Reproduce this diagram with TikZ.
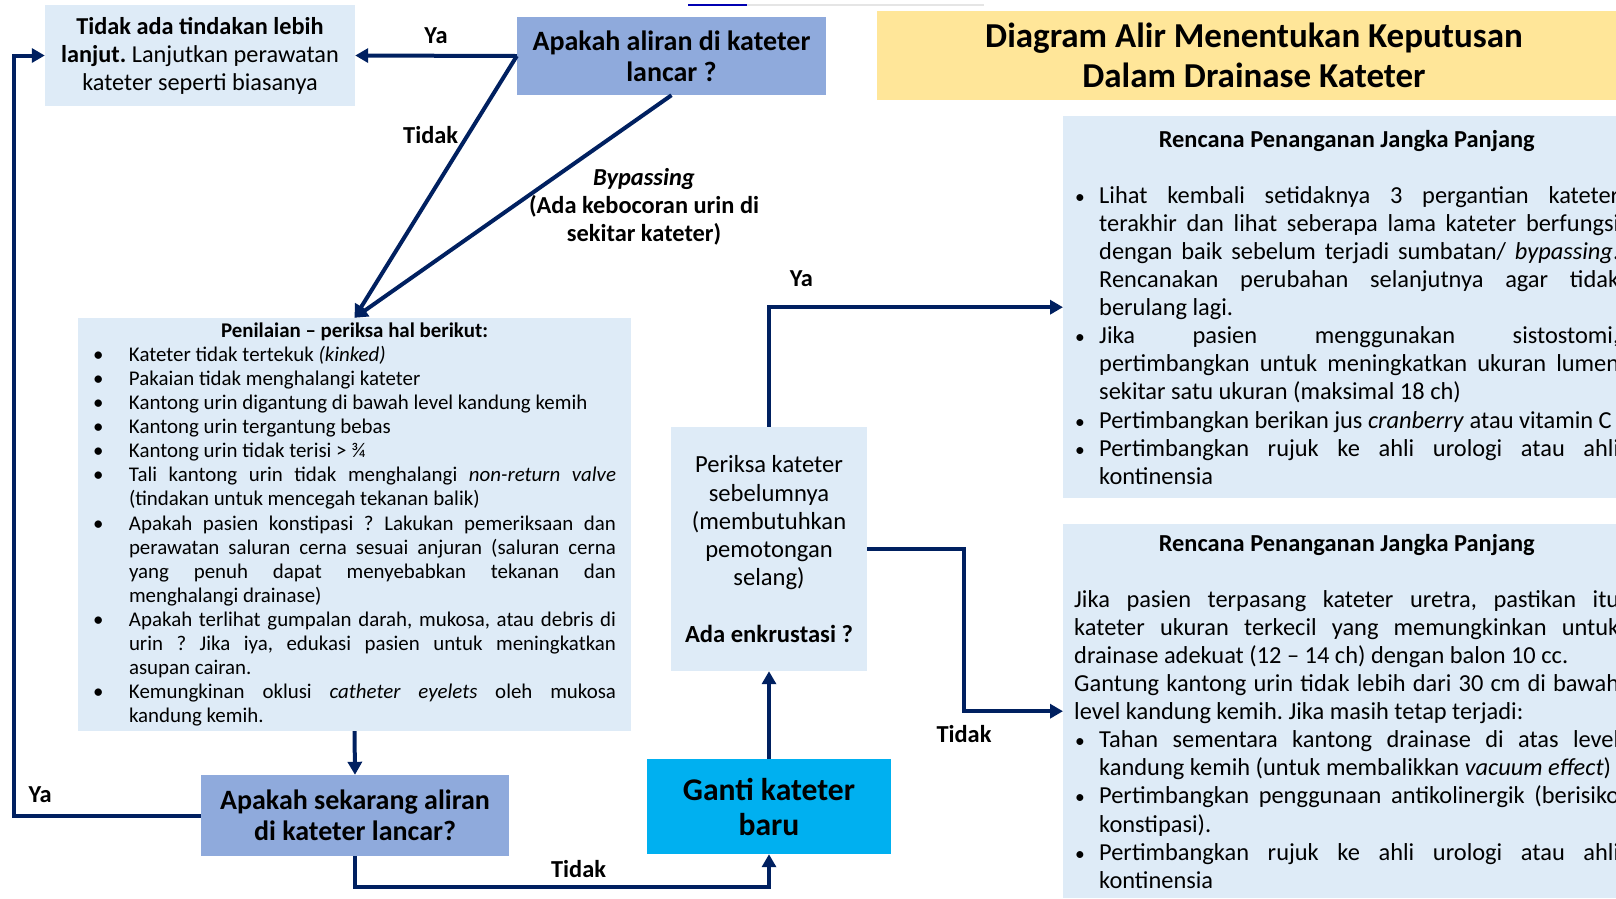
\documentclass[tikz,border=0pt]{standalone}
\usepackage{fontspec}
\setmainfont{Carlito}
\usetikzlibrary{arrows.meta,calc}

\definecolor{lightbox}{HTML}{DEEBF7}
\definecolor{askbox}{HTML}{8FAADC}
\definecolor{titlebox}{HTML}{FFE699}
\definecolor{gantibox}{HTML}{00B0F0}
\definecolor{navyline}{HTML}{002060}

\tolerance=10000 \hbadness=10000 \hyphenpenalty=10000 \exhyphenpenalty=10000
\frenchspacing
\newcommand{\fs}[2]{\fontsize{#1}{#2}\selectfont}
% bullet lines, left box and right boxes
\newcommand{\pitem}[1]{\par\hangindent=36pt\hangafter=1\noindent\makebox[36pt][l]{\textbullet}#1}
\newcommand{\ritem}[1]{\par\hangindent=25pt\hangafter=1\noindent\makebox[25pt][l]{\hspace{1pt}\scalebox{.8}{\textbullet}}#1}

\begin{document}
\begin{tikzpicture}[x=1pt, y=-1pt,
	kotak/.style={fill=lightbox, inner sep=0pt, align=center},
	tanya/.style={fill=askbox, inner sep=0pt, align=center, font=\fs{28}{31}\bfseries},
	panah/.style={draw=navyline, line width=4pt, -{Triangle[length=13pt, width=14pt]}},
	ket/.style={font=\fs{24.4}{28}\bfseries, inner sep=0pt}]
	
	\useasboundingbox (0,0) rectangle (1616,898);
	\clip (0,0) rectangle (1616,898);
	
	\draw[gray!20, line width=1.5pt] (688,5) -- (984,5);
	\draw[blue!70!black, line width=2pt] (688,5) -- (747,5);
	
	\node[fill=titlebox, minimum width=754pt, minimum height=89pt, inner sep=0pt, align=center, font=\fs{35}{40}\bfseries] (judul) at (1254,55.5) {Diagram Alir Menentukan Keputusan\\Dalam Drainase Kateter};
	
	\node[kotak, minimum width=310pt, minimum height=101pt, font=\fs{24.3}{28}] (tidakada) at (200,55.5) {\textbf{Tidak ada tindakan lebih}\\\textbf{lanjut.} Lanjutkan perawatan\\kateter seperti biasanya};
	\node[tanya, minimum width=309pt, minimum height=78pt] (aliran) at (671.5,56) {Apakah aliran di kateter\\lancar ?};
	
	\node[kotak, minimum width=553pt, minimum height=413pt, text width=523pt, align=justify, font=\fs{20.9}{24.1}] (penilaian) at (354.5,524.5) {%
		\centerline{\bfseries Penilaian – periksa hal berikut:}
		\pitem{Kateter tidak tertekuk \textit{(kinked)}}
		\pitem{Pakaian tidak menghalangi kateter}
		\pitem{Kantong urin digantung di bawah level kandung kemih}
		\pitem{Kantong urin tergantung bebas}
		\pitem{Kantong urin tidak terisi > ¾}
		\pitem{Tali kantong urin tidak menghalangi \textit{non-return valve}\linebreak (tindakan untuk mencegah tekanan balik)}
		\pitem{Apakah pasien konstipasi ? Lakukan pemeriksaan dan\linebreak perawatan saluran cerna sesuai anjuran (saluran cerna\linebreak yang penuh dapat menyebabkan tekanan dan\linebreak menghalangi drainase)}
		\pitem{Apakah terlihat gumpalan darah, mukosa, atau debris di\linebreak urin ? Jika iya, edukasi pasien untuk meningkatkan\linebreak asupan cairan.}
		\pitem{Kemungkinan oklusi \textit{catheter eyelets} oleh mukosa\linebreak kandung kemih.}\par};
	
	\node[tanya, minimum width=308pt, minimum height=81pt] (sekarang) at (355,815.5) {Apakah sekarang aliran\\di kateter lancar?};
	\node[kotak, minimum width=196pt, minimum height=244pt, font=\fs{24.6}{28.2}] (periksa) at (769,549) {Periksa kateter\\sebelumnya\\(membutuhkan\\pemotongan\\selang)\\[28.2pt]\textbf{Ada enkrustasi ?}};
	\node[fill=gantibox, minimum width=244pt, minimum height=95pt, inner sep=0pt, align=center, font=\fs{31.6}{35}\bfseries] (ganti) at (769,806.5) {Ganti kateter\\baru};
	
	\node[kotak, anchor=north west, minimum height=382pt, text width=545pt, inner xsep=11pt, align=justify, font=\fs{24.4}{28.1}] (rencanaA) at (1063,116) {%
		\centerline{\bfseries Rencana Penanganan Jangka Panjang}
		\centerline{}
		\ritem{Lihat kembali setidaknya 3 pergantian kateter\linebreak terakhir dan lihat seberapa lama kateter berfungsi\linebreak dengan baik sebelum terjadi sumbatan/ \textit{bypassing}.\linebreak Rencanakan perubahan selanjutnya agar tidak\linebreak berulang lagi.}
		\ritem{Jika pasien menggunakan sistostomi,\linebreak pertimbangkan untuk meningkatkan ukuran lumen\linebreak sekitar satu ukuran (maksimal 18 ch)}
		\ritem{Pertimbangkan berikan jus \textit{cranberry} atau vitamin C}
		\ritem{Pertimbangkan rujuk ke ahli urologi atau ahli\linebreak kontinensia}\par};
	
	\node[kotak, anchor=north west, minimum height=374pt, text width=545pt, inner xsep=11pt, align=justify, font=\fs{24.4}{28.1}] (rencanaB) at (1063,524) {%
		\centerline{\bfseries Rencana Penanganan Jangka Panjang}
		\centerline{}
		\noindent Jika pasien terpasang kateter uretra, pastikan itu\linebreak kateter ukuran terkecil yang memungkinkan untuk\linebreak drainase adekuat (12 – 14 ch) dengan balon 10 cc.\par
		\noindent Gantung kantong urin tidak lebih dari 30 cm di bawah\linebreak level kandung kemih. Jika masih tetap terjadi:
		\ritem{Tahan sementara kantong drainase di atas level\linebreak kandung kemih (untuk membalikkan \textit{vacuum effect})}
		\ritem{Pertimbangkan penggunaan antikolinergik (berisiko\linebreak konstipasi).}
		\ritem{Pertimbangkan rujuk ke ahli urologi atau ahli\linebreak kontinensia}\par};
	
	% rails for the elbow lines
	\coordinate (kiri) at (14,0);
	\coordinate (bawah) at (0,887);
	\coordinate (kanan) at (964,0);
	
	\draw[panah] (aliran.west) -- node[above=10pt, ket]{Ya} (tidakada.east);
	\draw[panah] (aliran.west) -- node[pos=.3, left=8pt, ket]{Tidak} (penilaian.north);
	\draw[panah] (aliran.south) -- node[pos=.5, right=14pt, ket, align=center]{\textit{Bypassing}\\(Ada kebocoran urin di\\sekitar kateter)} (penilaian.north);
	\draw[panah] (penilaian.south) -- (sekarang.north);
	\draw[panah] (sekarang.west) -- node[pos=.86, above=11pt, ket]{Ya} (sekarang.west -| kiri) |- (tidakada.west);
	\draw[panah] (sekarang.south) -- (sekarang.south |- bawah) -| node[pos=.27, above=7pt, ket]{Tidak} (ganti.south);
	\draw[panah] (ganti.north) -- (periksa.south);
	\draw[panah] (periksa.north) |- node[pos=.555, above=19pt, ket]{Ya} (rencanaA.west);
	\draw[panah] (periksa.east) -- (periksa.east -| kanan) |- node[pos=.5, below=12pt, ket]{Tidak} (rencanaB.west);
	
\end{tikzpicture}
\end{document}
